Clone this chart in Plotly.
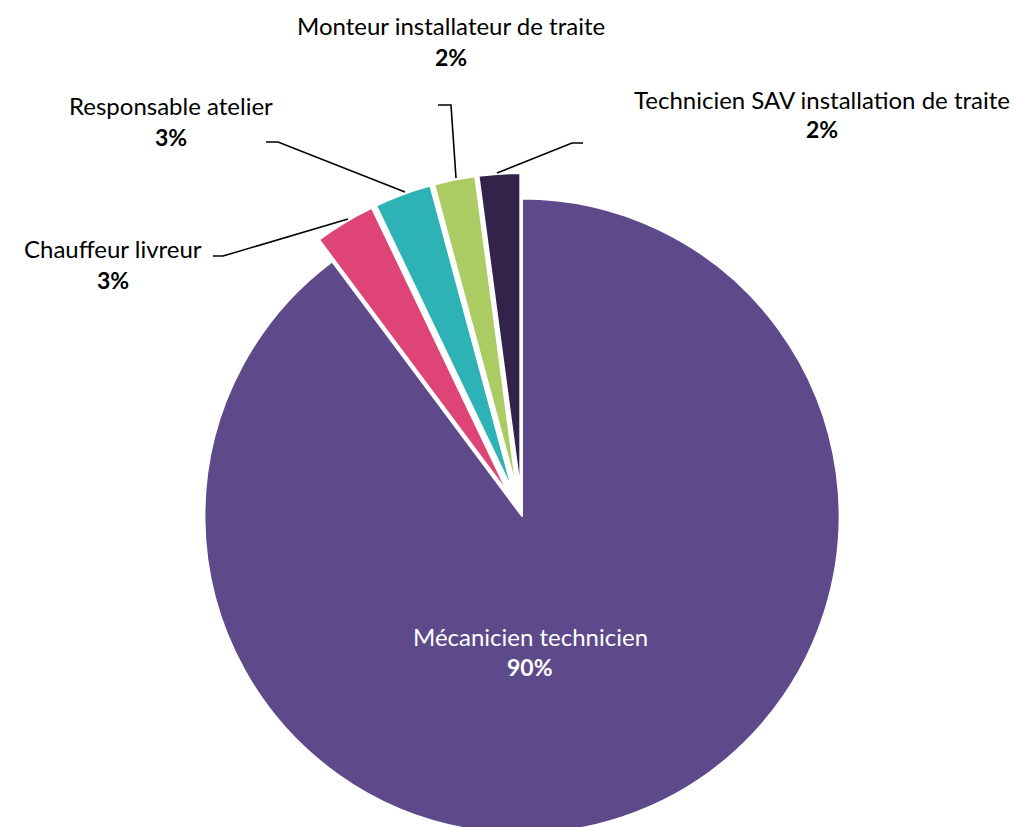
import plotly.graph_objects as go

# ---- data ----
categories = ["Mécanicien technicien", "Chauffeur livreur", "Responsable atelier",
              "Monteur installateur de traite", "Technicien SAV installation de traite"]
values = [89.8, 3.1, 2.9, 2.1, 2.1]
colors = ["#5E4A8B", "#DE4576", "#2DB3B5", "#ABCC63", "#33234B"]
pulls = [0, 0.08, 0.08, 0.08, 0.08]

# ---- layout constants (pixels) ----
W, H = 1022, 870
cx, cy, R = 522, 516, 343   # pie centre and domain half-size

def px(x):
    return x / W

def py(y):
    return 1 - y / H

fig = go.Figure(go.Pie(
    labels=categories,
    values=values,
    sort=False,
    direction="clockwise",
    rotation=0,
    pull=pulls,
    marker=dict(colors=colors, line=dict(color="white", width=2)),
    textinfo="none",
    hoverinfo="label+percent",
    showlegend=False,
    domain=dict(x=[px(cx - R), px(cx + R)], y=[py(cy + R), py(cy - R)]),
))

total = sum(values)
pcts = [f"{round(v / total * 100)}%" for v in values]

# label positions: (x centre, y name line, y pct line, colour)
label_pos = [
    (530, 636, 667, "white"),
    (113, 248, 280, "black"),
    (171, 106, 137, "black"),
    (451, 25, 57, "black"),
    (822, 99, 129, "black"),
]
font_family = "Lato, 'Open Sans', sans-serif"
for name, pct, (lx, ly1, ly2, col) in zip(categories, pcts, label_pos):
    fig.add_annotation(x=px(lx), y=py(ly1), xref="paper", yref="paper", text=name,
                       showarrow=False, xanchor="center", yanchor="middle",
                       font=dict(family=font_family, size=24, color=col))
    fig.add_annotation(x=px(lx), y=py(ly2), xref="paper", yref="paper", text=f"<b>{pct}</b>",
                       showarrow=False, xanchor="center", yanchor="middle",
                       font=dict(family=font_family, size=23, color=col))

# leader lines
leaders = [
    [(213, 256), (223, 256), (348, 219)],
    [(266, 142), (278, 142), (405, 192)],
    [(438, 105), (451, 105), (456, 178)],
    [(583, 143), (572, 143), (497, 173)],
]
for pts in leaders:
    path = "M " + " L ".join(f"{px(x)},{py(y)}" for x, y in pts)
    fig.add_shape(type="path", path=path, xref="paper", yref="paper",
                  line=dict(color="black", width=1.6))

fig.update_layout(
    width=W, height=H,
    margin=dict(l=0, r=0, t=0, b=0),
    paper_bgcolor="white",
    plot_bgcolor="white",
)

fig.write_html("out.html",
               config={"displayModeBar": False},
               post_script="document.body.style.margin='0';document.body.style.overflow='hidden';")
